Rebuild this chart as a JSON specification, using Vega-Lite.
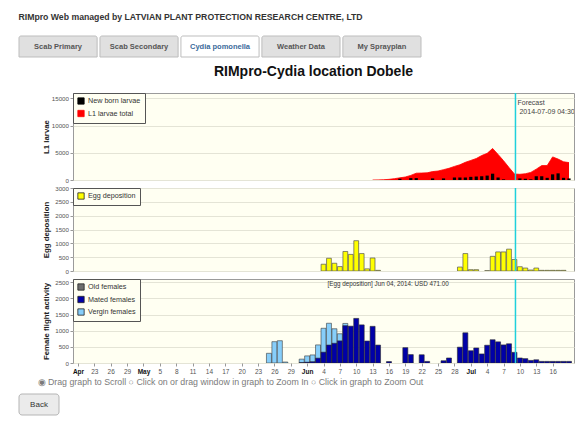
{
  "$schema": "https://vega.github.io/schema/vega-lite/v6.json",
  "padding": {"left": 18, "top": 12, "right": 4, "bottom": 4},
  "background": "white",
  "title": {"text": "RIMpro Web managed by LATVIAN PLANT PROTECTION RESEARCH CENTRE, LTD", "anchor": "start", "frame": "bounds", "fontSize": 8.7, "fontWeight": "bold", "color": "#333", "offset": 14},
  "spacing": 6,
  "datasets": {
    "larvae": [
      {"date": "2014-06-13", "total": 0, "newborn": 0},
      {"date": "2014-06-14", "total": 20, "newborn": 0},
      {"date": "2014-06-15", "total": 50, "newborn": 0},
      {"date": "2014-06-16", "total": 120, "newborn": 0},
      {"date": "2014-06-17", "total": 250, "newborn": 0},
      {"date": "2014-06-18", "total": 400, "newborn": 230},
      {"date": "2014-06-19", "total": 550, "newborn": 0},
      {"date": "2014-06-20", "total": 850, "newborn": 350},
      {"date": "2014-06-21", "total": 1250, "newborn": 350},
      {"date": "2014-06-22", "total": 1280, "newborn": 0},
      {"date": "2014-06-23", "total": 1320, "newborn": 0},
      {"date": "2014-06-24", "total": 1550, "newborn": 290},
      {"date": "2014-06-25", "total": 1650, "newborn": 0},
      {"date": "2014-06-26", "total": 1900, "newborn": 290},
      {"date": "2014-06-27", "total": 2150, "newborn": 0},
      {"date": "2014-06-28", "total": 2500, "newborn": 460},
      {"date": "2014-06-29", "total": 2800, "newborn": 460},
      {"date": "2014-06-30", "total": 3250, "newborn": 460},
      {"date": "2014-07-01", "total": 3600, "newborn": 580},
      {"date": "2014-07-02", "total": 3950, "newborn": 640},
      {"date": "2014-07-03", "total": 4500, "newborn": 690},
      {"date": "2014-07-04", "total": 4900, "newborn": 810},
      {"date": "2014-07-05", "total": 5800, "newborn": 1160},
      {"date": "2014-07-06", "total": 4700, "newborn": 460},
      {"date": "2014-07-07", "total": 3550, "newborn": 120},
      {"date": "2014-07-08", "total": 2300, "newborn": 0},
      {"date": "2014-07-09", "total": 1100, "newborn": 0},
      {"date": "2014-07-10", "total": 1050, "newborn": 290},
      {"date": "2014-07-11", "total": 1150, "newborn": 230},
      {"date": "2014-07-12", "total": 1400, "newborn": 120},
      {"date": "2014-07-13", "total": 2000, "newborn": 690},
      {"date": "2014-07-14", "total": 2650, "newborn": 690},
      {"date": "2014-07-15", "total": 2650, "newborn": 400},
      {"date": "2014-07-16", "total": 4250, "newborn": 1040},
      {"date": "2014-07-17", "total": 3850, "newborn": 1220},
      {"date": "2014-07-18", "total": 3350, "newborn": 400},
      {"date": "2014-07-19", "total": 3200, "newborn": 290}
    ],
    "eggs": [
      {"date": "2014-06-04", "value": 245},
      {"date": "2014-06-05", "value": 460},
      {"date": "2014-06-06", "value": 280},
      {"date": "2014-06-07", "value": 160},
      {"date": "2014-06-08", "value": 705},
      {"date": "2014-06-09", "value": 600},
      {"date": "2014-06-10", "value": 1095},
      {"date": "2014-06-11", "value": 630},
      {"date": "2014-06-12", "value": 77},
      {"date": "2014-06-13", "value": 470},
      {"date": "2014-06-14", "value": 24},
      {"date": "2014-06-29", "value": 143},
      {"date": "2014-06-30", "value": 630},
      {"date": "2014-07-01", "value": 48},
      {"date": "2014-07-02", "value": 48},
      {"date": "2014-07-04", "value": 12},
      {"date": "2014-07-05", "value": 530},
      {"date": "2014-07-06", "value": 690},
      {"date": "2014-07-07", "value": 690},
      {"date": "2014-07-08", "value": 790},
      {"date": "2014-07-09", "value": 416},
      {"date": "2014-07-10", "value": 155},
      {"date": "2014-07-11", "value": 107},
      {"date": "2014-07-12", "value": 36},
      {"date": "2014-07-13", "value": 107},
      {"date": "2014-07-14", "value": 24},
      {"date": "2014-07-15", "value": 24},
      {"date": "2014-07-16", "value": 24},
      {"date": "2014-07-17", "value": 24},
      {"date": "2014-07-18", "value": 24}
    ],
    "females": [
      {"date": "2014-05-25", "series": "Vergin females", "value": 300},
      {"date": "2014-05-26", "series": "Vergin females", "value": 660},
      {"date": "2014-05-27", "series": "Vergin females", "value": 690},
      {"date": "2014-05-28", "series": "Vergin females", "value": 30},
      {"date": "2014-05-31", "series": "Vergin females", "value": 120},
      {"date": "2014-06-01", "series": "Vergin females", "value": 220},
      {"date": "2014-06-02", "series": "Vergin females", "value": 250},
      {"date": "2014-06-03", "series": "Vergin females", "value": 560},
      {"date": "2014-06-04", "series": "Vergin females", "value": 1075},
      {"date": "2014-06-05", "series": "Vergin females", "value": 1230},
      {"date": "2014-06-06", "series": "Vergin females", "value": 1060},
      {"date": "2014-06-07", "series": "Vergin females", "value": 905},
      {"date": "2014-06-08", "series": "Vergin females", "value": 1225},
      {"date": "2014-05-31", "series": "Mated females", "value": 10},
      {"date": "2014-06-01", "series": "Mated females", "value": 25},
      {"date": "2014-06-02", "series": "Mated females", "value": 40},
      {"date": "2014-06-03", "series": "Mated females", "value": 150},
      {"date": "2014-06-04", "series": "Mated females", "value": 335},
      {"date": "2014-06-05", "series": "Mated females", "value": 555},
      {"date": "2014-06-06", "series": "Mated females", "value": 610},
      {"date": "2014-06-07", "series": "Mated females", "value": 685},
      {"date": "2014-06-08", "series": "Mated females", "value": 1155},
      {"date": "2014-06-09", "series": "Mated females", "value": 1140},
      {"date": "2014-06-10", "series": "Mated females", "value": 1380},
      {"date": "2014-06-11", "series": "Mated females", "value": 1180},
      {"date": "2014-06-12", "series": "Mated females", "value": 680},
      {"date": "2014-06-13", "series": "Mated females", "value": 1135},
      {"date": "2014-06-14", "series": "Mated females", "value": 555},
      {"date": "2014-06-16", "series": "Mated females", "value": 45},
      {"date": "2014-06-19", "series": "Mated females", "value": 475},
      {"date": "2014-06-20", "series": "Mated females", "value": 260},
      {"date": "2014-06-22", "series": "Mated females", "value": 255},
      {"date": "2014-06-23", "series": "Mated females", "value": 50},
      {"date": "2014-06-26", "series": "Mated females", "value": 70},
      {"date": "2014-06-27", "series": "Mated females", "value": 155},
      {"date": "2014-06-29", "series": "Mated females", "value": 490},
      {"date": "2014-06-30", "series": "Mated females", "value": 935},
      {"date": "2014-07-01", "series": "Mated females", "value": 380},
      {"date": "2014-07-02", "series": "Mated females", "value": 465},
      {"date": "2014-07-03", "series": "Mated females", "value": 280},
      {"date": "2014-07-04", "series": "Mated females", "value": 550},
      {"date": "2014-07-05", "series": "Mated females", "value": 720},
      {"date": "2014-07-06", "series": "Mated females", "value": 655},
      {"date": "2014-07-07", "series": "Mated females", "value": 560},
      {"date": "2014-07-08", "series": "Mated females", "value": 595},
      {"date": "2014-07-09", "series": "Mated females", "value": 330},
      {"date": "2014-07-10", "series": "Mated females", "value": 155},
      {"date": "2014-07-11", "series": "Mated females", "value": 135},
      {"date": "2014-07-12", "series": "Mated females", "value": 80},
      {"date": "2014-07-13", "series": "Mated females", "value": 100},
      {"date": "2014-07-14", "series": "Mated females", "value": 50},
      {"date": "2014-07-15", "series": "Mated females", "value": 50},
      {"date": "2014-07-16", "series": "Mated females", "value": 50},
      {"date": "2014-07-17", "series": "Mated females", "value": 50},
      {"date": "2014-07-18", "series": "Mated females", "value": 50},
      {"date": "2014-07-19", "series": "Mated females", "value": 50}
    ],
    "tabs": [
      {"tab": "Scab Primary"},
      {"tab": "Scab Secondary"},
      {"tab": "Cydia pomonella"},
      {"tab": "Weather Data"},
      {"tab": "My Sprayplan"}
    ],
    "button": [{"label": "Back"}],
    "forecast": [{"label": "Forecast", "stamp": "2014-07-09 04:30:00"}],
    "hover": [{"label": "[Egg deposition] Jun 04, 2014: USD 471.00"}]
  },
  "config": {
    "font": "Liberation Sans",
    "view": {"stroke": "#9b9b9b", "fill": "#FFFFF2"},
    "axis": {"domain": false, "labelColor": "#555", "tickColor": "#999", "gridColor": "#e4e4d6", "titleColor": "#222", "labelFont": "Liberation Sans", "titleFont": "Liberation Sans", "tickCount": 100},
    "axisX": {"labelOverlap": false, "labelSeparation": 0},
    "axisY": {"minExtent": 19, "maxExtent": 19, "titlePadding": 4, "labelFontSize": 6.2, "tickSize": 3, "labelPadding": 1.5, "titleFontSize": 7.8, "titleFontWeight": "bold", "format": "d", "labelOverlap": false},
    "legend": {"orient": "top-left", "offset": 0, "padding": 4, "fillColor": "#FFFFF2", "strokeColor": "#555", "labelFontSize": 7.2, "labelColor": "#333", "symbolType": "square", "symbolSize": 40, "symbolStrokeColor": "#222", "symbolStrokeWidth": 0.8, "rowPadding": 2.5, "labelOffset": 3, "labelFont": "Liberation Sans", "symbolOpacity": 1},
    "title": {"font": "Liberation Sans"}
  },
  "vconcat": [
    {
      "width": 348,
      "height": 21,
      "view": {"fill": null, "stroke": null},
      "data": {"name": "tabs"},
      "layer": [
        {
          "mark": {"type": "bar", "stroke": "#bdbdbd", "strokeWidth": 1, "cornerRadiusTopLeft": 2, "cornerRadiusTopRight": 2},
          "encoding": {
            "x": {"field": "tab", "type": "nominal", "sort": null, "axis": null, "scale": {"range": [-54, 348], "paddingInner": 0.035, "paddingOuter": 0}},
            "fill": {"condition": {"test": "datum.tab === 'Cydia pomonella'", "value": "#ffffff"}, "value": "#e0e0e0"}
          }
        },
        {
          "mark": {"type": "text", "fontSize": 7.5, "fontWeight": "bold"},
          "encoding": {
            "x": {"field": "tab", "type": "nominal", "sort": null, "axis": null, "bandPosition": 0.5},
            "text": {"field": "tab"},
            "color": {"condition": {"test": "datum.tab === 'Cydia pomonella'", "value": "#3a6a9a"}, "value": "#555555"}
          }
        }
      ]
    },
    {
      "spacing": 8,
      "bounds": "flush",
      "resolve": {"scale": {"color": "independent", "y": "independent", "x": "independent"}, "legend": {"color": "independent"}},
      "vconcat": [
        {
          "width": 501,
          "height": 87,
          "title": {"text": "RIMpro-Cydia location Dobele", "fontSize": 14, "fontWeight": "bold", "color": "#111", "anchor": "middle", "frame": "group", "dx": -10, "offset": 13},
          "layer": [
            {
              "data": {"name": "larvae"},
              "mark": {"type": "area", "opacity": 1, "line": {"color": "#5e2a2a", "strokeWidth": 0.8}, "clip": true},
              "encoding": {
                "x": {"field": "date", "type": "temporal", "scale": {"type": "utc", "domain": [{"year": 2014, "month": 4, "date": 20, "utc": true}, {"year": 2014, "month": 7, "date": 19, "utc": true}]}, "axis": null},
                "y": {"field": "total", "type": "quantitative", "scale": {"domain": [0, 15000]}, "axis": {"title": "L1 larvae", "values": [0, 5000, 10000, 15000]}},
                "color": {"datum": "L1 larvae total", "type": "nominal", "scale": {"domain": ["New born larvae", "L1 larvae total"], "range": ["#000000", "#FF0000"]}, "legend": {"title": null}}
              }
            },
            {
              "data": {"name": "larvae"},
              "transform": [{"filter": "datum.newborn > 0"}],
              "mark": {"type": "bar", "width": 3.2, "clip": true},
              "encoding": {
                "x": {"field": "date", "type": "temporal", "axis": null},
                "y": {"field": "newborn", "type": "quantitative"},
                "color": {"datum": "New born larvae", "type": "nominal"}
              }
            },
            {
              "data": {"name": "forecast"},
              "mark": {"type": "rule", "color": "#1fd0dc", "strokeWidth": 1.5},
              "encoding": {"x": {"datum": {"year": 2014, "month": 7, "date": 9, "hours": 4, "minutes": 30, "utc": true}, "type": "temporal"}}
            },
            {
              "data": {"name": "forecast"},
              "mark": {"type": "text", "align": "left", "baseline": "top", "dx": 2, "dy": 1, "fontSize": 7, "color": "#444", "clip": true},
              "encoding": {
                "x": {"datum": {"year": 2014, "month": 7, "date": 9, "hours": 4, "minutes": 30, "utc": true}, "type": "temporal"},
                "y": {"datum": 15000, "type": "quantitative"},
                "text": {"field": "label"}
              }
            },
            {
              "data": {"name": "forecast"},
              "mark": {"type": "text", "align": "left", "baseline": "top", "dx": 4, "dy": 10, "fontSize": 7, "color": "#444", "clip": true},
              "encoding": {
                "x": {"datum": {"year": 2014, "month": 7, "date": 9, "hours": 4, "minutes": 30, "utc": true}, "type": "temporal"},
                "y": {"datum": 15000, "type": "quantitative"},
                "text": {"field": "stamp"}
              }
            }
          ]
        },
        {
          "width": 501,
          "height": 83,
          "layer": [
            {
              "data": {"name": "eggs"},
              "mark": {"type": "bar", "width": 4.8, "stroke": "#555", "strokeWidth": 0.7, "clip": true},
              "encoding": {
                "x": {"field": "date", "type": "temporal", "scale": {"type": "utc", "domain": [{"year": 2014, "month": 4, "date": 20, "utc": true}, {"year": 2014, "month": 7, "date": 19, "utc": true}]}, "axis": null},
                "y": {"field": "value", "type": "quantitative", "scale": {"domain": [0, 3000]}, "axis": {"title": "Egg deposition", "values": [0, 500, 1000, 1500, 2000, 2500, 3000]}},
                "color": {"datum": "Egg deposition", "type": "nominal", "scale": {"domain": ["Egg deposition"], "range": ["#FFFF00"]}, "legend": {"title": null}}
              }
            },
            {
              "data": {"name": "forecast"},
              "mark": {"type": "rule", "color": "#1fd0dc", "strokeWidth": 1.5},
              "encoding": {"x": {"datum": {"year": 2014, "month": 7, "date": 9, "hours": 4, "minutes": 30, "utc": true}, "type": "temporal"}}
            }
          ]
        },
        {
          "width": 501,
          "height": 84,
          "layer": [
            {
              "data": {"name": "females"},
              "transform": [{"filter": "datum.series === 'Vergin females'"}],
              "mark": {"type": "bar", "width": 5, "stroke": "#3a3a3a", "strokeWidth": 0.6, "clip": true},
              "encoding": {
                "x": {"field": "date", "type": "temporal", "scale": {"type": "utc", "domain": [{"year": 2014, "month": 4, "date": 20, "utc": true}, {"year": 2014, "month": 7, "date": 19, "utc": true}]},
                  "axis": {
                    "values": [1397952000000, 1398211200000, 1398470400000, 1398729600000, 1398988800000, 1399248000000, 1399507200000, 1399766400000, 1400025600000, 1400284800000, 1400544000000, 1400803200000, 1401062400000, 1401321600000, 1401580800000, 1401840000000, 1402099200000, 1402358400000, 1402617600000, 1402876800000, 1403136000000, 1403395200000, 1403654400000, 1403913600000, 1404172800000, 1404432000000, 1404691200000, 1404950400000, 1405209600000, 1405468800000],
                    "tickCount": 100,
                    "labelExpr": "(utcdate(datum.value) <= 3 || (utcmonth(datum.value) == 3 && utcdate(datum.value) == 20)) ? utcFormat(datum.value, '%b') : utcFormat(datum.value, '%-d')",
                    "labelFontWeight": {"condition": {"test": "utcdate(datum.value) <= 3 || (utcmonth(datum.value) == 3 && utcdate(datum.value) == 20)", "value": "bold"}, "value": "normal"},
                    "labelColor": {"condition": {"test": "utcdate(datum.value) <= 3 || (utcmonth(datum.value) == 3 && utcdate(datum.value) == 20)", "value": "#111"}, "value": "#555"},
                    "labelFontSize": 6.5,
                    "labelOverlap": false,
                    "labelPadding": 2,
                    "tickSize": 3,
                    "grid": false,
                    "title": "◉ Drag graph to Scroll   ○ Click on or drag window in graph to Zoom In   ○ Click in graph to Zoom Out",
                    "titleFontWeight": "normal",
                    "titleFontSize": 8.8,
                    "titleColor": "#7a7a7a",
                    "titleAnchor": "start",
                    "titleAlign": "left",
                    "titleX": -36,
                    "titlePadding": 3
                  }
                },
                "y": {"field": "value", "type": "quantitative", "scale": {"domain": [0, 2500]}, "axis": {"title": "Female flight activity", "values": [0, 500, 1000, 1500, 2000, 2500]}},
                "color": {"field": "series", "type": "nominal", "scale": {"domain": ["Old females", "Mated females", "Vergin females"], "range": ["#6e6e6e", "#0000A8", "#87CEFA"]}, "legend": {"title": null}}
              }
            },
            {
              "data": {"name": "females"},
              "transform": [{"filter": "datum.series === 'Mated females'"}],
              "mark": {"type": "bar", "width": 5, "stroke": "#2a2a2a", "strokeWidth": 0.6, "clip": true},
              "encoding": {
                "x": {"field": "date", "type": "temporal"},
                "y": {"field": "value", "type": "quantitative"},
                "color": {"field": "series", "type": "nominal"}
              }
            },
            {
              "data": {"name": "forecast"},
              "mark": {"type": "rule", "color": "#1fd0dc", "strokeWidth": 1.5},
              "encoding": {"x": {"datum": {"year": 2014, "month": 7, "date": 9, "hours": 4, "minutes": 30, "utc": true}, "type": "temporal"}}
            },
            {
              "data": {"name": "hover"},
              "mark": {"type": "text", "align": "left", "baseline": "top", "dy": -1, "fontSize": 6.3, "color": "#333"},
              "encoding": {
                "x": {"datum": {"year": 2014, "month": 6, "date": 4, "hours": 18, "utc": true}, "type": "temporal"},
                "y": {"datum": 2500, "type": "quantitative"},
                "text": {"field": "label"}
              }
            }
          ]
        }
      ]
    },
    {
      "width": 40,
      "height": 21,
      "view": {"fill": null, "stroke": null},
      "data": {"name": "button"},
      "layer": [
        {
          "mark": {"type": "bar", "fill": "#ebebeb", "stroke": "#b5b5b5", "strokeWidth": 1, "cornerRadius": 3},
          "encoding": {"x": {"field": "label", "type": "nominal", "axis": null, "scale": {"range": [-54, -14], "paddingInner": 0, "paddingOuter": 0}}}
        },
        {
          "mark": {"type": "text", "fontSize": 8, "color": "#333"},
          "encoding": {"x": {"field": "label", "type": "nominal", "axis": null, "bandPosition": 0.5}, "text": {"field": "label"}}
        }
      ]
    }
  ]
}
